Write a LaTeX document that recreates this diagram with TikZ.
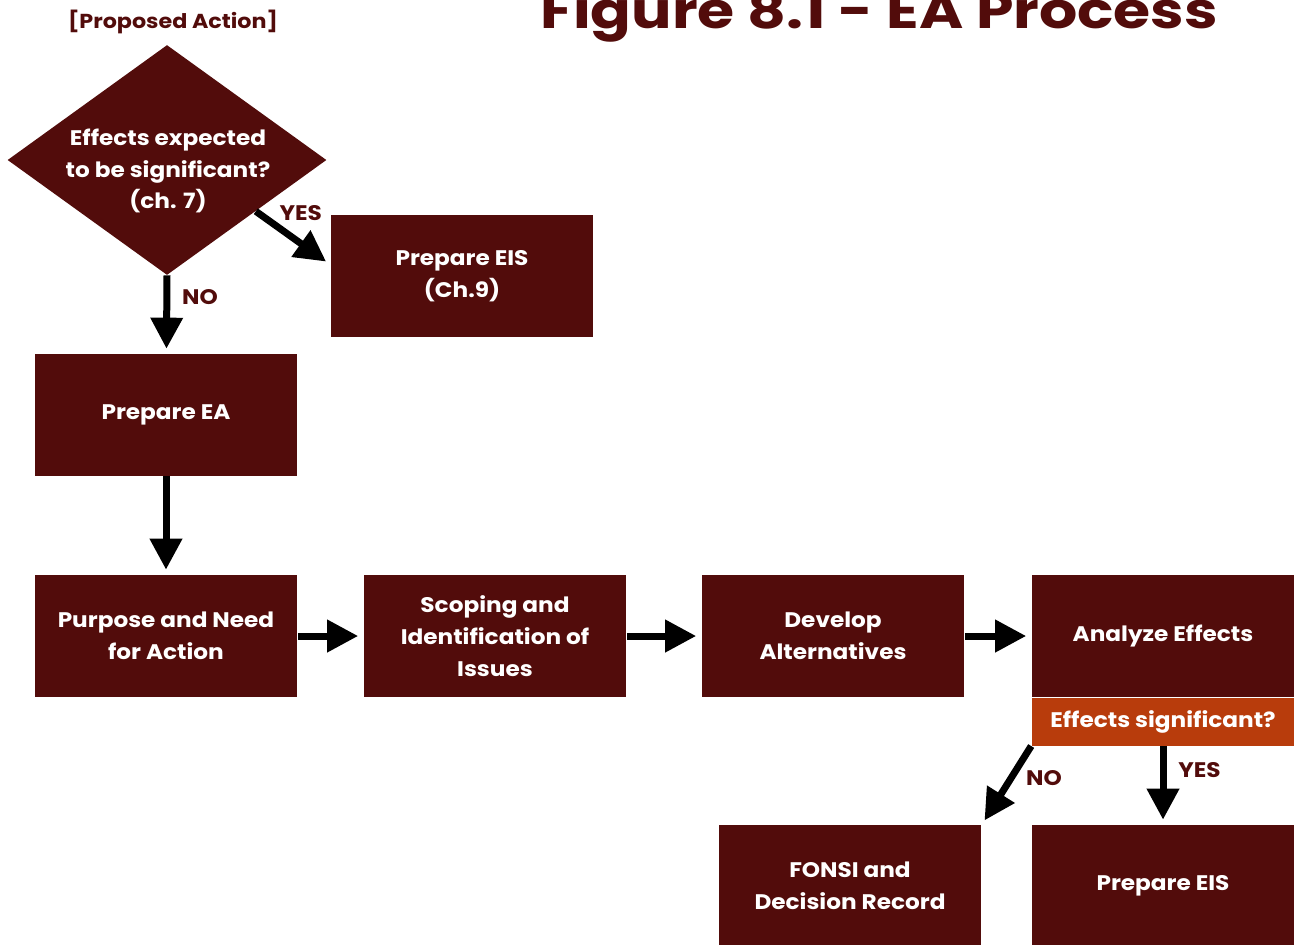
\documentclass[tikz,border=0pt]{standalone}
\usepackage{fontspec}
\setmainfont{Poppins}[FakeStretch=1.1]
\newfontfamily\titlefont{Poppins}[FakeStretch=1.2]
\usetikzlibrary{shapes.geometric,arrows.meta,positioning}
\definecolor{maroon}{HTML}{520C0B}
\definecolor{rust}{HTML}{B83C0C}

\begin{document}
\begin{tikzpicture}[x=0.02cm, y=-0.02cm,
    box/.style={fill=maroon, text=white, minimum width=5.26cm, minimum height=2.44cm,
        inner sep=0pt, align=center, font=\bfseries\fontsize{12}{18}\selectfont},
    strip/.style={fill=rust, text=white, minimum width=5.26cm, minimum height=0.96cm,
        inner sep=0pt, font=\bfseries\fontsize{12}{18}\selectfont},
    decision/.style={diamond, fill=maroon, minimum width=6.38cm, minimum height=4.6cm,
        inner sep=0pt},
    flow/.style={line width=0.14cm, -{Triangle[length=0.62cm, width=0.62cm]}, shorten >=0.1cm},
    lbl/.style={text=maroon, inner sep=1pt, font=\bfseries\fontsize{12}{14}\selectfont}]
    \useasboundingbox (0,0) rectangle (1297,944);
    \clip (0,0) rectangle (1297,944);

    \node[text=maroon, anchor=base west, inner sep=0pt, font=\titlefont\bfseries\fontsize{28.5}{30}\selectfont]
        (title) at (540,28) {Figure 8.1 - EA Process};
    \node[lbl, font=\bfseries\fontsize{11.5}{12}\selectfont] (prop) at (173,22) {[Proposed Action]};

    \node[decision] (dia) at (167,160) {};
    \node[text=white, align=center, inner sep=0pt, font=\bfseries\fontsize{12}{18}\selectfont]
        (diatxt) at (168,171) {Effects expected\\to be significant?\\(ch. 7)};

    \node[box] (eis1) at (462,276) {Prepare EIS\\(Ch.9)};
    \node[box] (ea) at (166,415) {Prepare EA};
    \node[box] (need) at (166,636) {Purpose and Need\\for Action};
    \node[box] (scope) at (495,636) {Scoping and\\Identification of\\Issues};
    \node[box] (alt) at (833,636) {Develop\\Alternatives};
    \node[box] (ana) at (1163,636) {Analyze Effects};
    \node[strip, below=0pt of ana] (sig) {Effects significant?};
    \node[box] (fonsi) at (850,886) {FONSI and\\Decision Record};
    \node[box] (eis2) at (1163,886) {Prepare EIS};

    % decision at the top
    \draw[flow] (dia.-30) -- node[lbl, pos=0.45, anchor=south west, xshift=-0.3cm, yshift=0.18cm] {YES} (eis1.175);
    \draw[flow] (dia.south) -- node[lbl, pos=0.28, anchor=west, xshift=0.2cm] {NO} (ea);

    % main line
    \draw[flow] (ea) -- (need);
    \draw[flow] (need) -- (scope);
    \draw[flow] (scope) -- (alt);
    \draw[flow] (alt) -- (ana);

    % outcome
    \draw[flow] (sig.south west) -- node[lbl, pos=0.41, anchor=west, xshift=0.2cm] {NO} (fonsi.north east);
    \draw[flow] (sig.south) -- node[lbl, pos=0.3, anchor=west, xshift=0.2cm] {YES} (eis2);
\end{tikzpicture}
\end{document}
